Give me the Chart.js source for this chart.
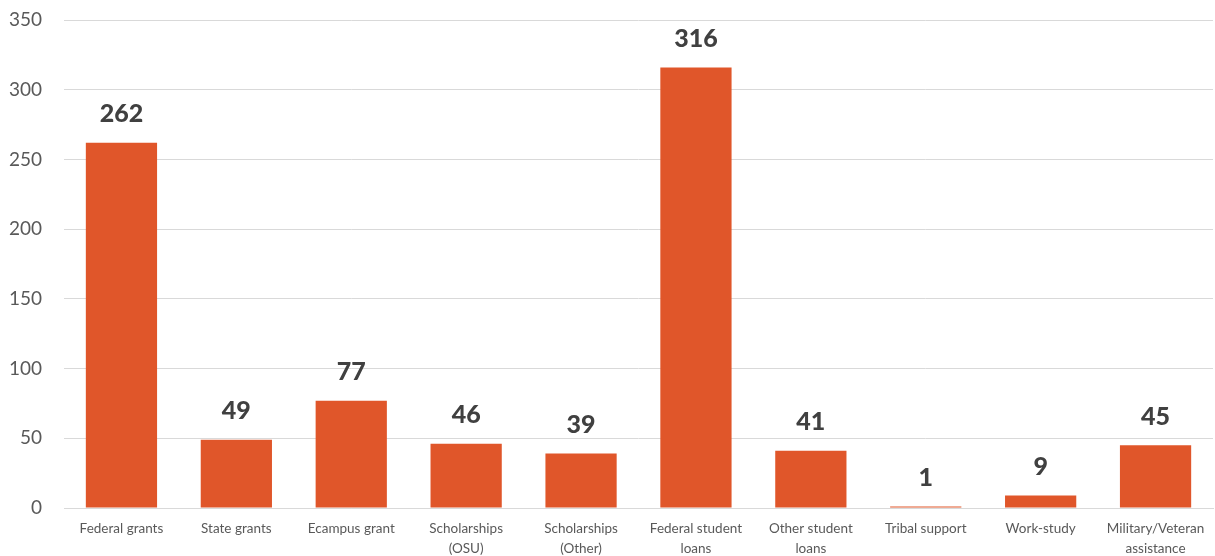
<!DOCTYPE html>
<html>
<head>
<meta charset="utf-8">
<script src="https://cdn.jsdelivr.net/npm/chart.js@4/dist/chart.umd.min.js"></script>
<style>
  html, body { margin: 0; padding: 0; background: #fff; }
  #wrap { width: 1215px; height: 556px; position: relative; }
</style>
</head>
<body>
<div id="wrap"><canvas id="chart"></canvas></div>
<script>
const categories = [
    "Federal grants",
    "State grants",
    "Ecampus grant",
    ["Scholarships", "(OSU)"],
    ["Scholarships", "(Other)"],
    ["Federal student", "loans"],
    ["Other student", "loans"],
    "Tribal support",
    "Work-study",
    ["Military/Veteran", "assistance"]
];
const counts = [262, 49, 77, 46, 39, 316, 41, 1, 9, 45];
const yTicks = [0, 50, 100, 150, 200, 250, 300, 350];

const barColor = "#E0562A";
const fontFamily = "Lato, 'Open Sans', 'Noto Sans', sans-serif";

// draw the value above each bar
const valueLabels = {
    id: "valueLabels",
    afterDatasetsDraw(chart) {
        const ctx = chart.ctx;
        const meta = chart.getDatasetMeta(0);
        ctx.save();
        ctx.fillStyle = "#404040";
        ctx.font = "900 25px " + fontFamily;
        ctx.textAlign = "center";
        ctx.textBaseline = "bottom";
        meta.data.forEach((bar, i) => {
            ctx.fillText(String(counts[i]), bar.x, bar.y - 16);
        });
        ctx.restore();
    }
};

const ctx = document.getElementById("chart").getContext("2d");
new Chart(ctx, {
    type: "bar",
    data: {
        labels: categories,
        datasets: [{
            data: counts,
            backgroundColor: barColor,
            borderWidth: 0,
            barPercentage: 0.62,
            categoryPercentage: 1.0
        }]
    },
    options: {
        responsive: true,
        maintainAspectRatio: false,
        animation: false,
        layout: { padding: { top: 20, right: 2, left: 0, bottom: 0 } },
        plugins: {
            legend: { display: false },
            tooltip: { enabled: false }
        },
        scales: {
            x: {
                grid: { display: false },
                border: { color: "#d9d9d9", width: 1 },
                ticks: {
                    color: "#595959",
                    font: { family: fontFamily, size: 13.5, lineHeight: 1.45 },
                    maxRotation: 0,
                    autoSkip: false,
                    padding: 3
                },
                afterFit(scale) {
                    scale.height = 48;
                    scale.paddingLeft = 0;
                    scale.paddingRight = 0;
                }
            },
            y: {
                min: 0,
                max: 350,
                afterBuildTicks(scale) {
                    scale.ticks = yTicks.map(v => ({ value: v }));
                },
                grid: { color: "#d9d9d9", drawTicks: false },
                border: { display: false },
                ticks: {
                    color: "#595959",
                    font: { family: fontFamily, size: 19 },
                    padding: 22
                },
                afterFit(scale) {
                    scale.width = 64;
                    scale.paddingTop = 0;
                    scale.paddingBottom = 0;
                }
            }
        }
    },
    plugins: [valueLabels]
});
</script>
</body>
</html>
